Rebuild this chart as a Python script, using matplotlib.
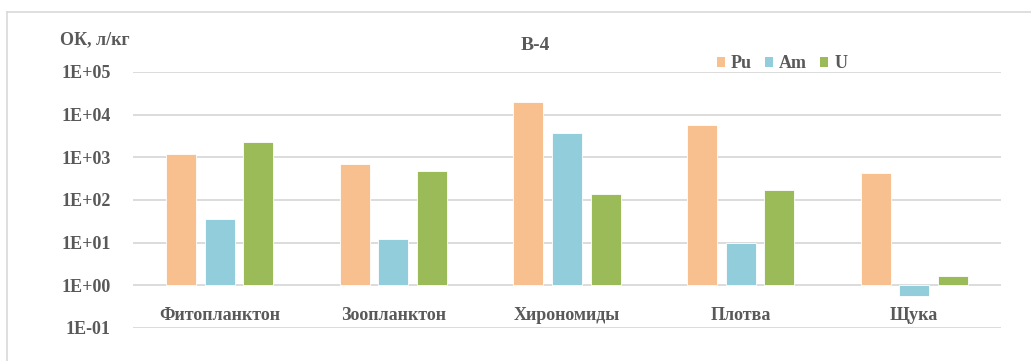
import matplotlib
matplotlib.use("Agg")
import matplotlib.pyplot as plt
from matplotlib.lines import Line2D
from matplotlib.patches import Patch
import numpy as np

categories = ["Фитопланктон", "Зоопланктон", "Хирономиды", "Плотва", "Щука"]
series_names = ["Pu", "Am", "U"]
pu = [1170, 690, 20200, 5800, 430]
am = [35, 12, 3650, 10, 0.56]
u = [2350, 475, 136, 175, 1.65]
tick_values = [1e-1, 1e0, 1e1, 1e2, 1e3, 1e4, 1e5]
tick_labels = ["1E-01", "1E+00", "1E+01", "1E+02", "1E+03", "1E+04", "1E+05"]

colors = ["#F9C08F", "#92CDDC", "#9BBB59"]
text_color = "#595959"
grid_color = "#D9D9D9"
font = "Liberation Serif"

W, H = 1031, 361
fig = plt.figure(figsize=(W / 100, H / 100), dpi=100)
ax = fig.add_axes([133 / W, 1 - 328 / H, (1001 - 133) / W, (328 - 72) / H])

ax.set_yscale("log")
ax.set_ylim(0.1, 1e5)
ax.set_xlim(-0.5, len(categories) - 0.5)

x = np.arange(len(categories))
width = 0.173
step = 0.222
for i, (vals, c) in enumerate(zip([pu, am, u], colors)):
    vals = np.array(vals, dtype=float)
    ax.bar(x + (i - 1) * step, vals - 1, bottom=1, width=width, color=c,
           edgecolor="white", linewidth=0.6, zorder=3)

ax.set_yticks(tick_values)
ax.set_yticklabels(tick_labels)
ax.yaxis.set_minor_locator(matplotlib.ticker.NullLocator())
ax.tick_params(axis="y", length=0, pad=16, labelsize=13, labelcolor=text_color)
for lbl in ax.get_yticklabels():
    lbl.set_fontfamily(font)
    lbl.set_fontweight("bold")
ax.set_xticks([])
ax.grid(axis="y", color=grid_color, linewidth=1.3, zorder=0)
for s in ax.spines.values():
    s.set_visible(False)

# category names sit just under the 1E+00 line
for xi, name in zip(x, categories):
    ax.annotate(name, xy=(xi, 1), xytext=(0, -22), textcoords="offset points",
                ha="center", va="center", fontsize=13, fontweight="bold",
                color=text_color, family=font)

fig.text(535 / W, 1 - 45 / H, "В-4", ha="center", va="center", fontsize=14,
         fontweight="bold", color=text_color, family=font)
fig.text(60 / W, 1 - 40 / H, "ОК, л/кг", ha="left", va="center", fontsize=13,
         fontweight="bold", color=text_color, family=font)

handles = [Patch(facecolor=c, edgecolor="none") for c in colors]
leg = fig.legend(handles, series_names, loc="center", bbox_to_anchor=(782 / W, 1 - 64 / H),
                 ncol=3, frameon=False, handlelength=0.45, handleheight=0.45,
                 handletextpad=0.35, columnspacing=0.7,
                 prop={"family": font, "weight": "bold", "size": 13})
for t in leg.get_texts():
    t.set_color(text_color)

# outer frame
fig.add_artist(Line2D([7 / W, 1], [1 - 12 / H, 1 - 12 / H], transform=fig.transFigure,
                      color=grid_color, linewidth=1.2))
fig.add_artist(Line2D([7 / W, 7 / W], [1 - 12 / H, 0], transform=fig.transFigure,
                      color=grid_color, linewidth=1.2))

fig.savefig("out.png", dpi=100)
